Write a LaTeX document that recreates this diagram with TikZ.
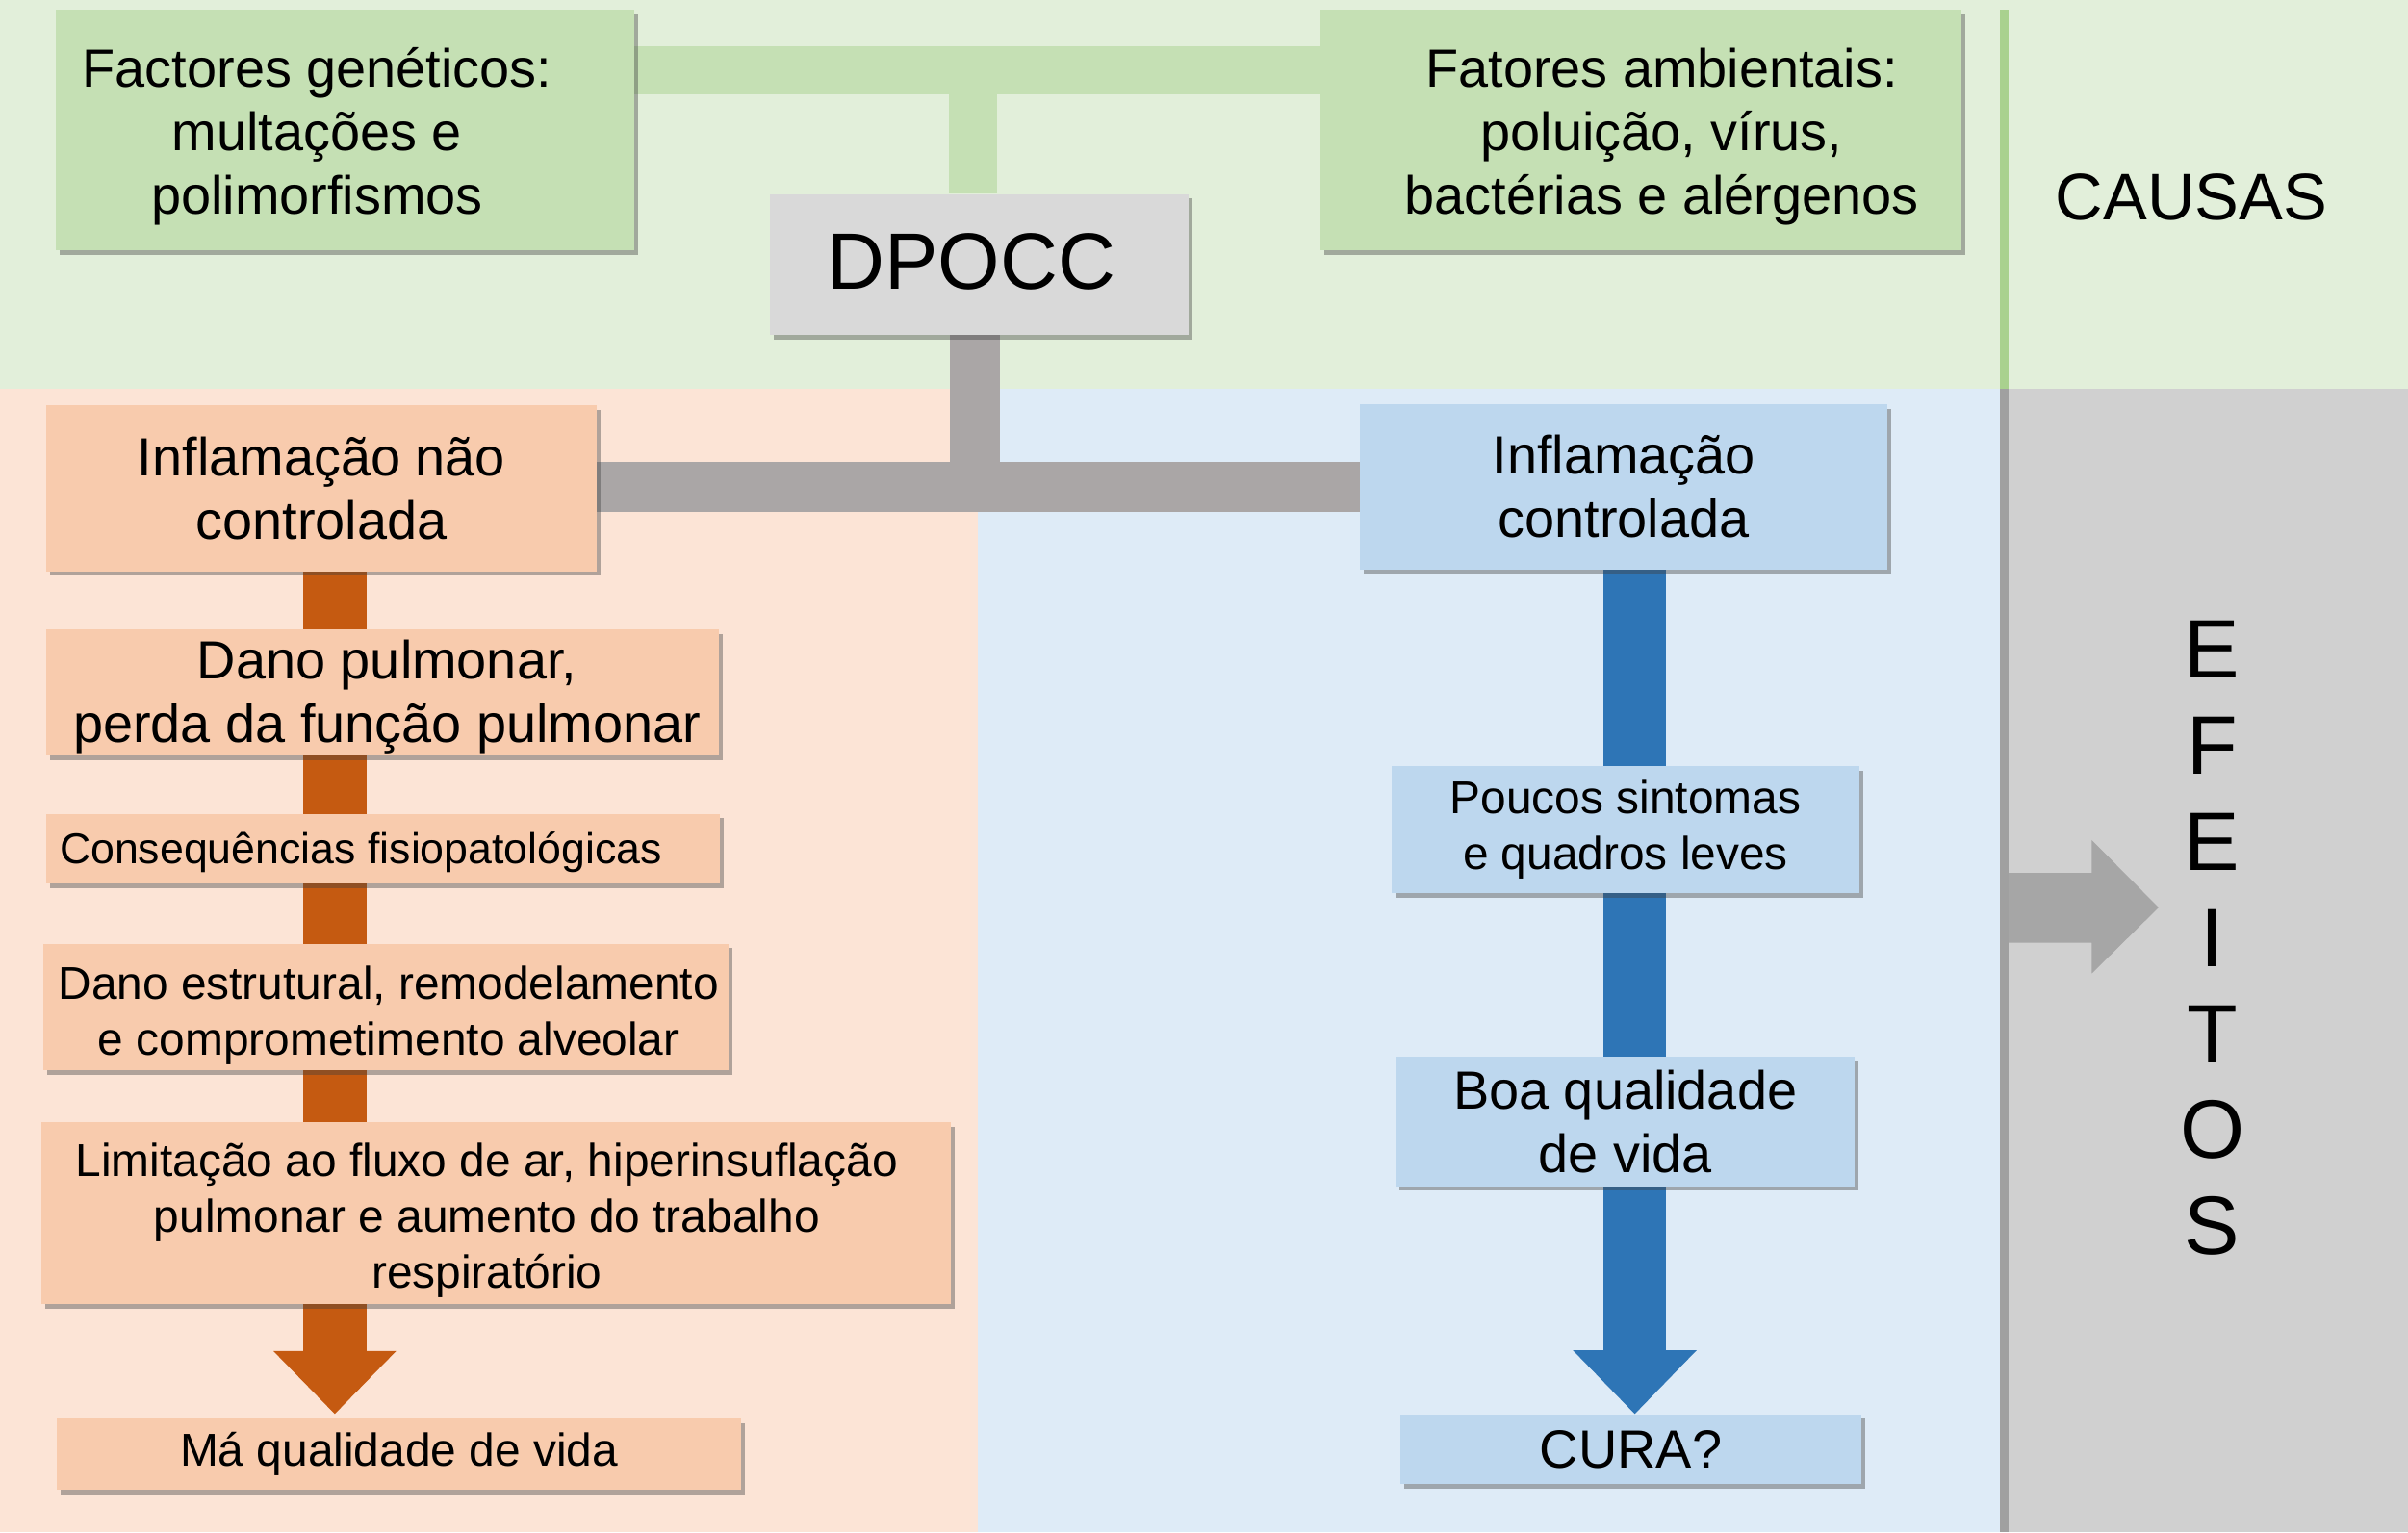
\documentclass[tikz,border=0pt]{standalone}
\usepackage{fontspec}
\setmainfont{Liberation Sans}
\usetikzlibrary{shadows,calc}
\definecolor{bandgreen}{HTML}{E2EFDA}
\definecolor{boxgreen}{HTML}{C5E0B4}
\definecolor{linegreen}{HTML}{A9D18E}
\definecolor{boxgray}{HTML}{D9D9D9}
\definecolor{conngray}{HTML}{AAA6A6}
\definecolor{bgpeach}{HTML}{FCE4D6}
\definecolor{boxpeach}{HTML}{F8CBAD}
\definecolor{orangec}{HTML}{C55A11}
\definecolor{bgblue}{HTML}{DEEBF7}
\definecolor{boxblue}{HTML}{BDD7EE}
\definecolor{bluec}{HTML}{2E75B6}
\definecolor{panelgray}{HTML}{D0D0D0}
\definecolor{panelline}{HTML}{A0A0A0}
\definecolor{arrowgray}{HTML}{A6A6A6}
\newcommand\fsA{\fontsize{35pt}{41.5pt}\selectfont}
\newcommand\fsB{\fontsize{30pt}{36.5pt}\selectfont}
\newcommand\fsS{\fontsize{28pt}{34pt}\selectfont}
\newcommand\fsC{\fontsize{43pt}{50pt}\selectfont}
\newcommand\fsD{\fontsize{52pt}{60pt}\selectfont}
\newcommand\fsE{\fontsize{54pt}{62.6pt}\selectfont}
\pgfdeclarelayer{bgl}
\pgfdeclarelayer{conn}
\pgfsetlayers{bgl,conn,main}
\begin{document}
\begin{tikzpicture}[x=1pt,y=-1pt,
  box/.style={inner sep=0pt, align=center, drop shadow={shadow xshift=2.5pt,shadow yshift=-3pt,opacity=.4,fill=black!75}},
  gbox/.style={box, fill=boxgreen},
  pbox/.style={box, fill=boxpeach},
  bbox/.style={box, fill=boxblue},
  dbox/.style={box, fill=boxgray},
  txt/.style={inner sep=0pt, align=center},
  gline/.style={draw=boxgreen, line width=31.5pt},
  rline/.style={draw=conngray, line width=33pt},
  oline/.style={draw=orangec, line width=41pt},
  bline/.style={draw=bluec, line width=41pt}]
\useasboundingbox (0,0) rectangle (1568,998);
\begin{pgfonlayer}{bgl}
  \fill[bandgreen] (0,0) rectangle (1568,253);
  \fill[bgpeach] (0,253) rectangle (637,998);
  \fill[bgblue] (637,253) rectangle (1302,998);
  \fill[panelgray] (1308,253) rectangle (1568,998);
  \fill[linegreen] (1302,6) rectangle (1308,253);
  \fill[panelline] (1302,253) rectangle (1308,998);
\end{pgfonlayer}

% boxes
\node[gbox, minimum width=376.7pt, minimum height=156.7pt] (gen) at (224.65,84.65) {};
\node[txt, font=\fsA] (gent) at (206.5,88.7) {Factores genéticos:\\multações e\\polimorfismos};
\node[gbox, minimum width=417pt, minimum height=156.7pt] (env) at (1068.5,84.65) {};
\node[txt, font=\fsA] (envt) at (1082,89) {Fatores ambientais:\\poluição, vírus,\\bactérias e alérgenos};
\node[dbox, minimum width=272.5pt, minimum height=91.6pt] (dpocc) at (637.75,172.2) {};
\node[txt, font=\fsD] (dpocct) at (632.5,170.5) {DPOCC};
\node[txt, font=\fsC] (causas) at (1427,128.6) {CAUSAS};
\node[pbox, font=\fsA, minimum width=358.5pt, minimum height=108pt] (inf1) at (209.25,318) {Inflamação não\\controlada};
\node[bbox, font=\fsA, minimum width=343.4pt, minimum height=107.5pt] (inf2) at (1057.3,317) {Inflamação\\controlada};
\node[pbox, minimum width=438pt, minimum height=82pt] (dano1) at (249,451) {};
\node[txt, font=\fsA] (dano1t) at (252,454) {Dano pulmonar,\\perda da função pulmonar};
\node[pbox, minimum width=439pt, minimum height=45.5pt] (cons) at (249.5,552.75) {};
\node[txt, font=\fsS] (const) at (235,555) {Consequências fisiopatológicas};
\node[pbox, minimum width=446.2pt, minimum height=82.4pt] (dano2) at (251.6,655.8) {};
\node[txt, font=\fsB] (dano2t) at (253,661) {Dano estrutural, remodelamento\\e comprometimento alveolar};
\node[pbox, minimum width=592pt, minimum height=118pt] (lim) at (323,790) {};
\node[txt, font=\fsB] (limt) at (317,794.7) {Limitação ao fluxo de ar, hiperinsuflação\\pulmonar e aumento do trabalho\\respiratório};
\node[pbox, font=\fsB, minimum width=445.7pt, minimum height=46.4pt] (mqv) at (259.85,946.8) {Má qualidade de vida};
\node[bbox, font=\fsB, minimum width=305pt, minimum height=82.6pt] (pouc) at (1058.5,540.3) {Poucos sintomas\\e quadros leves};
\node[bbox, font=\fsA, minimum width=298.6pt, minimum height=84.5pt] (boa) at (1058.3,730.25) {Boa qualidade\\de vida};
\node[bbox, font=\fsA, minimum width=300pt, minimum height=45.4pt] (cura) at (1062,943.7) {CURA?};
\node[txt, font=\fsE] (efeitos) at (1440.5,611) {E\\F\\E\\I\\T\\O\\S};

% connectors
\coordinate (gjoint) at (633.75,45.75);
\coordinate (rjoint) at (634.8,317);
\coordinate (ocol) at (218,0);
\coordinate (bcol) at (1064.5,0);
\coordinate (otip) at ($(mqv.north -| ocol)+(0,-2.6)$);
\coordinate (ohead) at ($(otip)+(0,-41)$);
\coordinate (btip) at (cura.north -| bcol);
\coordinate (bhead) at ($(btip)+(0,-41.5)$);
\coordinate (eastart) at (1308,591);
\coordinate (eatip) at (1405.6,591);
\begin{pgfonlayer}{conn}
  \draw[gline] (gen.east |- gjoint) -- (env.west |- gjoint);
  \draw[gline] (gjoint) -- (dpocc.north -| gjoint);
  \draw[rline] (dpocc.south -| rjoint) -- (rjoint);
  \draw[rline] (inf1.east |- rjoint) -- (inf2.west |- rjoint);
  \draw[oline] (inf1.south -| ocol) -- (ohead);
  \fill[orangec] ($(ohead)+(-40,0)$) -- ($(ohead)+(40,0)$) -- (otip) -- cycle;
  \draw[bline] (inf2.south -| bcol) -- (bhead);
  \fill[bluec] ($(bhead)+(-40.3,0)$) -- ($(bhead)+(40.3,0)$) -- (btip) -- cycle;
\end{pgfonlayer}
\fill[arrowgray] (eastart) -- ($(eastart)+(0,-22.5)$) -- ($(eastart)+(54,-22.5)$) -- ($(eastart)+(54,-44)$) -- (eatip) -- ($(eastart)+(54,43)$) -- ($(eastart)+(54,23)$) -- ($(eastart)+(0,23)$) -- cycle;
\end{tikzpicture}
\end{document}
